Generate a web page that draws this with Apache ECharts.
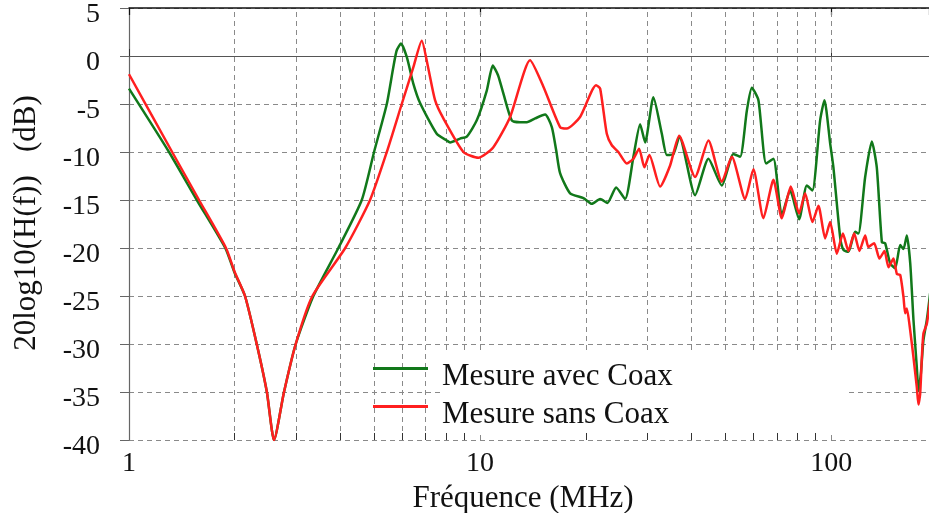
<!DOCTYPE html>
<html>
<head>
<meta charset="utf-8">
<script src="https://cdn.jsdelivr.net/npm/echarts@6/dist/echarts.min.js"></script>
<style>
html,body{margin:0;padding:0;background:#fff;}
#chart{width:929px;height:513px;}
</style>
</head>
<body>
<div id="chart"></div>
<script>
// ---- Data (frequency in MHz, gain in dB) ----
var freqGreen = [1.000,1.300,1.560,1.880,2.000,2.140,2.311,2.470,2.589,2.764,2.985,3.351,3.948,4.603,4.989,5.424,5.662,5.790,5.955,6.183,6.457,6.747,7.525,8.038,8.214,8.770,9.165,9.786,10.45,10.87,11.25,11.65,12.31,13.00,13.59,14.35,15.32,16.01,16.47,16.90,18.05,19.70,20.81,21.98,23.06,24.41,25.89,27.34,28.57,29.52,31.17,32.94,34.04,35.54,36.97,40.97,44.72,48.83,52.69,55.05,57.53,59.44,62.07,65.29,68.49,72.36,76.41,81.05,85.26,88.45,93.03,95.71,99.35,101.5,106.1,108.4,112.0,117.0,119.6,125.0,130.6,134.9,139.5,142.5,147.3,152.2,157.3,160.7,164.3,168.0,171.6,175.4,177.3,180.1,183.2,187.3,191.4];
var dbGreen = [-3.4,-10,-15,-20,-22.6,-25,-30,-35,-40,-35,-30,-25,-20,-15,-10,-5,-1.15,0.6,1.3,-0.1,-2.9,-4.9,-8.1,-8.8,-9.0,-8.6,-8.4,-6.7,-3.6,-1.0,-2.0,-3.9,-6.7,-6.9,-6.9,-6.5,-6.1,-7.4,-9.8,-12.2,-14.3,-14.8,-15.4,-14.9,-15.3,-13.7,-14.9,-10.5,-7.1,-9.0,-4.3,-8.1,-10.3,-10.2,-8.4,-14.5,-10.7,-13.5,-10.2,-10.5,-5.7,-3.3,-4.6,-11.2,-10.7,-16.6,-14.0,-17.0,-13.5,-14.0,-6.7,-4.6,-9.1,-11.6,-18.9,-20.2,-20.4,-18.3,-18.5,-12.6,-8.9,-11.6,-19.4,-19.5,-21.6,-22.1,-19.7,-20.1,-18.7,-21.6,-27.5,-32.4,-34.9,-33.1,-29.6,-27.5,-24.7];

var freqRed = [1.000,1.327,1.583,1.889,2.000,2.140,2.311,2.470,2.589,2.764,2.985,3.330,4.130,4.860,5.424,5.983,6.457,6.822,7.108,7.443,7.861,8.965,9.890,10.91,12.18,13.88,15.15,16.90,17.66,19.27,21.40,21.98,22.96,23.73,24.77,26.18,27.34,28.38,29.38,30.36,32.57,34.78,36.90,40.97,44.72,48.83,52.13,56.89,60.05,64.14,68.49,72.36,76.76,81.05,84.31,88.45,91.99,96.14,99.35,103.8,108.0,112.0,116.3,120.4,125.0,127.7,132.6,137.3,141.9,145.7,150.5,153.9,157.3,160.7,162.5,164.3,168.0,171.6,175.4,177.3,179.3,181.3,183.2,187.3,191.4];
var dbRed = [-1.9,-10,-15,-20,-22.5,-25,-30,-35,-40,-35,-30,-25,-20,-15,-10,-5,-1.15,1.6,-1.15,-4.6,-6.5,-10,-10.6,-9.5,-6.35,-0.45,-3.2,-7.4,-7.55,-6.35,-3.05,-3.4,-8.1,-9.3,-10,-11.2,-10.7,-9.65,-11.6,-10.3,-13.6,-11.4,-8.3,-12.6,-8.8,-13.1,-10.5,-14.9,-11.8,-16.9,-12.9,-16.9,-13.6,-16.4,-14.3,-17.3,-15.6,-19.0,-17.3,-20.6,-18.5,-20.3,-18.5,-20.3,-18.7,-19.9,-19.5,-21.1,-20.3,-22.0,-21.1,-22.7,-22.8,-25.1,-26.8,-26.3,-28.6,-31.4,-34.5,-36.3,-35.2,-31.4,-28.9,-27.9,-25.4];

var seriesNames = ['Mesure avec Coax', 'Mesure sans Coax'];
var minorGridFreqs = [2,3,4,5,6,7,8,9,10,20,30,40,50,60,70,80,90,100];
var minorTickFreqs = [2,3,4,5,6,7,8,9,20,30,40,50,60,70,80,90];
var xTitle = 'Fréquence (MHz)';
var yTitle = '20log10(H(f))   (dB)';

var FONT = '"Liberation Serif", "Times New Roman", serif';

function zip(xs, ys){ var o=[]; for(var i=0;i<xs.length;i++) o.push([xs[i], ys[i]]); return o; }

var gridLineData = minorGridFreqs.map(function(f){ return {xAxis: f}; });
var tickData = minorTickFreqs.map(function(f){ return [{coord:[f,-40]},{coord:[f,-39.27]}]; });

var chart = echarts.init(document.getElementById('chart'), null, {renderer:'canvas'});
chart.setOption({
  animation: false,
  backgroundColor: '#fff',
  grid: {left: 129, right: 0, top: 8, bottom: 73, containLabel: false, outerBoundsMode: 'none'},
  xAxis: [{
    type: 'log', logBase: 10, min: 1, max: 190,
    position: 'bottom',
    axisLine: {show: true, lineStyle: {color: '#555', width: 1.2}},
    axisTick: {show: true, inside: true, length: 7, lineStyle: {color: '#333'}},
    axisLabel: {fontFamily: FONT, fontSize: 28, color: '#111', margin: 10, showMaxLabel: false},
    splitLine: {show: false},
    name: xTitle, nameLocation: 'middle', nameGap: 38,
    nameTextStyle: {fontFamily: FONT, fontSize: 31, color: '#111', padding: [0,12,0,0]}
  },{
    type: 'log', logBase: 10, min: 1, max: 190,
    position: 'top',
    axisLine: {show: true, lineStyle: {color: '#111', width: 1.5}},
    axisTick: {show: true, inside: true, length: 7, lineStyle: {color: '#111', width: 1.2}},
    axisLabel: {show: false},
    splitLine: {show: false}
  }],
  yAxis: {
    type: 'value', min: -40, max: 5, interval: 5,
    axisLine: {show: true, lineStyle: {color: '#666', width: 1.2}},
    axisTick: {show: true, length: 9, lineStyle: {color: '#666'}},
    axisLabel: {
      margin: 29, formatter: '{v|{value}}',
      rich: {v: {fontFamily: FONT, fontSize: 28, color: '#111', lineHeight: 28, padding: [14,0,0,0]}}
    },
    splitLine: {show: true, lineStyle: {color: '#8a8a8a', width: 1, type: [5,4]}}
  },
  legend: {
    orient: 'vertical', left: 368, top: 340, itemWidth: 55, itemHeight: 3, itemGap: -9,
    icon: 'rect',
    z: 10,
    data: seriesNames,
    formatter: '{t|{name}}',
    textStyle: {
      rich: {t: {fontFamily: FONT, fontSize: 31, color: '#111', lineHeight: 26, padding: [16,0,0,9]}}
    }
  },
  graphic: [
    {type: 'rect', left: 440, top: 354, z: 3, shape: {width: 407, height: 78}, style: {fill: '#fff'}, silent: true},
    {type: 'text', x: 27, y: 223, rotation: Math.PI/2, z: 10,
     style: {text: yTitle, fontFamily: FONT, fontSize: 31, fill: '#111', align: 'center', verticalAlign: 'middle'}}
  ],
  series: [{
    name: seriesNames[0], type: 'line', symbol: 'none', smooth: 0.2,
    data: zip(freqGreen, dbGreen),
    lineStyle: {color: '#11781a', width: 2.5}, itemStyle: {color: '#11781a'},
    z: 4,
    markLine: {
      silent: true, symbol: 'none', z: 1, animation: false,
      label: {show: false},
      lineStyle: {color: '#8a8a8a', width: 1, type: [5,4]},
      emphasis: {disabled: true},
      data: gridLineData
    }
  },{
    name: seriesNames[1], type: 'line', symbol: 'none', smooth: 0.2,
    data: zip(freqRed, dbRed),
    lineStyle: {color: '#ff1f1f', width: 2.5}, itemStyle: {color: '#ff1f1f'},
    z: 5,
    markLine: {
      silent: true, symbol: 'none', z: 6, animation: false,
      label: {show: false},
      lineStyle: {color: '#333', width: 1, type: 'solid'},
      emphasis: {disabled: true},
      data: tickData
    }
  }]
});
</script>
</body>
</html>
